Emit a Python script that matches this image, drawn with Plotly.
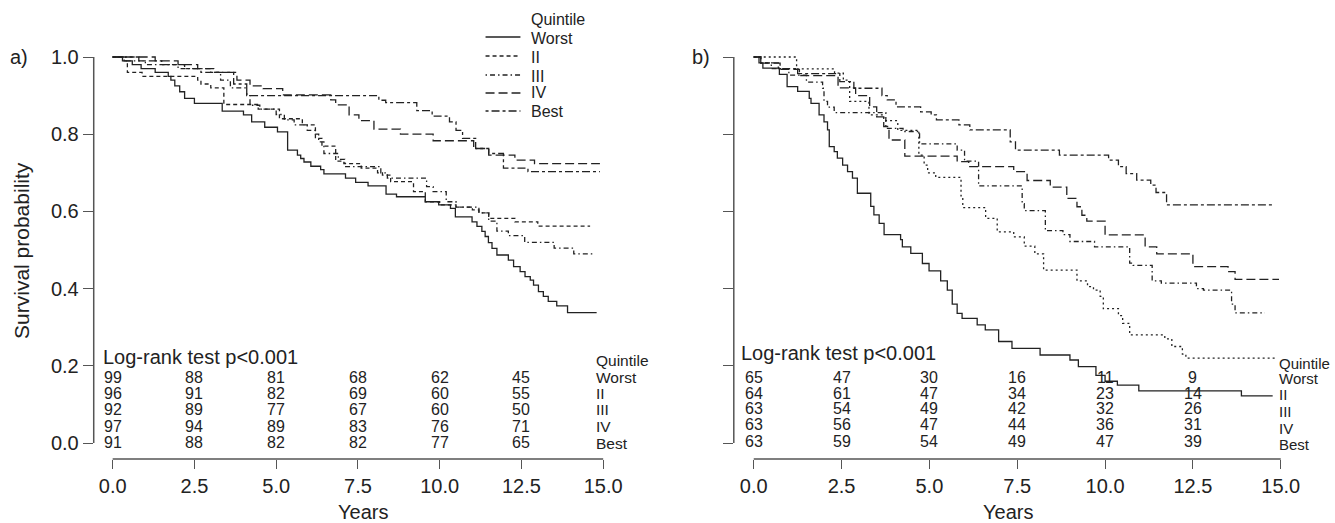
import plotly.graph_objects as go

# ---------------- data ----------------
groups = ["Worst", "II", "III", "IV", "Best"]
risk_times = [0, 2.5, 5, 7.5, 10, 12.5]
x_ticks = [0, 2.5, 5, 7.5, 10, 12.5, 15]
y_ticks = [0, 0.2, 0.4, 0.6, 0.8, 1.0]

# Panel a: step times and survival after each step
a_worst_t = [0, 0.3, 0.6, 0.87, 1.3, 1.7, 1.78, 1.9, 2.05, 2.2, 2.5, 3.35, 4.0, 4.25, 4.65, 5.04, 5.35, 5.65, 5.75, 5.85,
             6.06, 6.36, 6.46, 7.12, 7.43, 7.81, 8.36, 8.68, 9.56, 9.97, 10.33, 10.48, 10.99, 11.14, 11.29, 11.39, 11.49,
             11.6, 11.75, 12.1, 12.26, 12.46, 12.61, 12.77, 12.87, 13.02, 13.17, 13.32, 13.58, 13.91]
a_worst_s = [1.0, 0.99, 0.98, 0.97, 0.96, 0.95, 0.94, 0.925, 0.91, 0.893, 0.88, 0.86, 0.85, 0.832, 0.818, 0.806, 0.759,
             0.746, 0.737, 0.728, 0.717, 0.708, 0.697, 0.686, 0.675, 0.666, 0.645, 0.638, 0.625, 0.617, 0.608, 0.586,
             0.573, 0.561, 0.548, 0.535, 0.519, 0.504, 0.487, 0.474, 0.457, 0.444, 0.431, 0.422, 0.409, 0.392, 0.380,
             0.367, 0.355, 0.338]
a_worst_end = 14.8

a_ii_t = [0, 0.35, 0.45, 0.9, 2.6, 2.7, 3.0, 3.4, 4.45, 5.1, 5.8, 6.2, 6.4, 6.82, 7.07, 7.6, 8.1, 8.25, 8.5, 9.2,
          9.56, 10.0, 10.5, 11.0, 11.2, 11.5, 12.3, 13.0]
a_ii_s = [1.0, 0.99, 0.96, 0.95, 0.94, 0.93, 0.92, 0.877, 0.865, 0.84, 0.824, 0.789, 0.769, 0.73, 0.724, 0.712, 0.70,
          0.694, 0.677, 0.651, 0.625, 0.617, 0.611, 0.604, 0.596, 0.582, 0.573, 0.562]
a_ii_end = 14.6

a_iii_t = [0, 0.4, 1.0, 2.0, 3.0, 3.3, 3.6, 4.1, 4.2, 4.5, 5.0, 5.25, 5.55, 5.95, 6.2, 6.3, 6.46, 6.9, 7.1, 8.2,
           8.4, 9.6, 9.8, 10.2, 10.5, 11.2, 11.5, 11.75, 12.1, 12.6, 13.5, 14.1]
a_iii_s = [1.0, 0.99, 0.98, 0.97, 0.96, 0.94, 0.92, 0.90, 0.875, 0.865, 0.851, 0.837, 0.824, 0.81, 0.80, 0.78, 0.75,
           0.735, 0.716, 0.70, 0.686, 0.664, 0.651, 0.625, 0.611, 0.596, 0.575, 0.549, 0.537, 0.52, 0.505, 0.49]
a_iii_end = 14.75

a_iv_t = [0, 1.3, 2.0, 2.6, 3.1, 3.8, 4.2, 4.6, 5.2, 6.67, 6.82, 7.23, 7.53, 7.99, 8.8, 9.8, 11.04, 11.5, 12.3, 12.9]
a_iv_s = [1.0, 0.99, 0.98, 0.97, 0.96, 0.94, 0.925, 0.918, 0.902, 0.889, 0.876, 0.85, 0.835, 0.813, 0.80, 0.783,
          0.763, 0.746, 0.733, 0.724]
a_iv_end = 14.9

a_best_t = [0, 0.8, 1.5, 2.2, 2.7, 3.7, 4.1, 8.14, 8.35, 9.3, 9.77, 10.3, 10.5, 10.7, 11.1, 11.5, 11.95, 12.7]
a_best_s = [1.0, 0.99, 0.98, 0.97, 0.96, 0.93, 0.90, 0.888, 0.882, 0.861, 0.847, 0.832, 0.81, 0.789, 0.763, 0.75,
            0.712, 0.703]
a_best_end = 14.9

# Panel b
b_worst_t = [0, 0.15, 0.26, 0.73, 0.95, 1.25, 1.58, 1.63, 1.86, 2.0, 2.1, 2.15, 2.29, 2.38, 2.53, 2.67, 2.81, 2.95,
             3.33, 3.42, 3.57, 3.71, 4.18, 4.23, 4.47, 4.8, 4.99, 5.32, 5.51, 5.65, 5.79, 5.93, 6.36, 6.59, 6.97,
             7.35, 8.15, 9.0, 9.24, 9.74, 10.0, 10.35, 10.96, 13.88]
b_worst_s = [1.0, 0.985, 0.971, 0.955, 0.923, 0.911, 0.893, 0.88, 0.85, 0.832, 0.811, 0.768, 0.755, 0.738, 0.72,
             0.703, 0.686, 0.647, 0.613, 0.591, 0.569, 0.54, 0.527, 0.508, 0.491, 0.465, 0.446, 0.42, 0.396, 0.36,
             0.336, 0.323, 0.306, 0.293, 0.263, 0.245, 0.228, 0.215, 0.198, 0.175, 0.16, 0.15, 0.135, 0.122]
b_worst_end = 14.77

b_ii_t = [0, 1.22, 2.3, 2.55, 2.73, 3.28, 3.7, 4.1, 4.7, 4.85, 4.95, 5.18, 5.9, 5.95, 6.6, 6.93, 7.4, 7.7, 8.0, 8.25,
          9.2, 9.5, 9.67, 9.86, 9.95, 10.38, 10.5, 10.7, 11.7, 11.9, 12.2, 12.3]
b_ii_s = [1.0, 0.969, 0.958, 0.94, 0.885, 0.85, 0.835, 0.81, 0.746, 0.72, 0.70, 0.688, 0.64, 0.61, 0.582, 0.547,
          0.534, 0.51, 0.49, 0.448, 0.42, 0.405, 0.396, 0.38, 0.348, 0.33, 0.31, 0.28, 0.27, 0.25, 0.23, 0.22]
b_ii_end = 14.9

b_iii_t = [0, 0.2, 0.5, 1.0, 1.5, 1.96, 2.0, 2.1, 2.29, 3.76, 4.25, 4.72, 5.79, 6.0, 6.4, 7.64, 7.7, 8.3, 8.8, 9.0,
           9.7, 10.7, 10.8, 11.34, 11.6, 12.6, 12.8, 13.6, 13.7]
b_iii_s = [1.0, 0.985, 0.97, 0.953, 0.935, 0.919, 0.885, 0.87, 0.856, 0.815, 0.807, 0.775, 0.759, 0.73, 0.666, 0.62,
           0.602, 0.55, 0.54, 0.522, 0.508, 0.466, 0.46, 0.42, 0.414, 0.40, 0.396, 0.36, 0.337]
b_iii_end = 14.55

b_iv_t = [0, 0.2, 0.75, 1.3, 2.4, 2.9, 3.3, 3.5, 3.7, 3.85, 4.3, 5.79, 6.12, 7.4, 7.78, 8.44, 8.91, 9.2, 9.34, 9.48,
          10.0, 11.14, 11.47, 12.5, 13.5, 13.7]
b_iv_s = [1.0, 0.984, 0.968, 0.952, 0.92, 0.90, 0.871, 0.845, 0.82, 0.785, 0.743, 0.729, 0.716, 0.703, 0.68, 0.663,
          0.634, 0.612, 0.59, 0.575, 0.539, 0.508, 0.49, 0.457, 0.444, 0.424]
b_iv_end = 14.95

b_best_t = [0, 0.2, 0.7, 1.25, 2.45, 2.85, 3.65, 3.8, 4.05, 4.75, 5.05, 5.2, 5.84, 6.15, 7.3, 7.45, 8.7, 10.1, 10.38,
            10.6, 10.9, 11.3, 11.45, 11.75]
b_best_s = [1.0, 0.985, 0.97, 0.957, 0.936, 0.919, 0.90, 0.889, 0.871, 0.858, 0.85, 0.837, 0.824, 0.811, 0.78, 0.759,
            0.746, 0.733, 0.716, 0.698, 0.681, 0.668, 0.649, 0.617]
b_best_end = 14.75

# numbers at risk
a_risk_worst = [99, 88, 81, 68, 62, 45]
a_risk_ii = [96, 91, 82, 69, 60, 55]
a_risk_iii = [92, 89, 77, 67, 60, 50]
a_risk_iv = [97, 94, 89, 83, 76, 71]
a_risk_best = [91, 88, 82, 82, 77, 65]
b_risk_worst = [65, 47, 30, 16, 11, 9]
b_risk_ii = [64, 61, 47, 34, 23, 14]
b_risk_iii = [63, 54, 49, 42, 32, 26]
b_risk_iv = [63, 56, 47, 44, 36, 31]
b_risk_best = [63, 59, 54, 49, 47, 39]

# ---------------- layout / style ----------------
W, H = 1335, 523
FONT = "Liberation Sans, Arial, Helvetica, sans-serif"
TXT = "#222222"
AXC = "#555555"
CURVE = "#222222"

def px(x):
    return x / W

def py(y):
    return 1 - y / H

# pixel geometry of the two panels
A_T0, A_K = 113.0, 32.8        # pixel of t=0 and pixels per year (panel a)
B_T0, B_K = 756.0, 35.24       # panel b
V0, VK = 443.0, 386.0          # pixel of S=0 and pixels per unit
BOX_TOP, BOX_BOT = 40.0, 459.0
A_L, A_R = 94.0, 620.0
B_L, B_R = 736.0, 1300.0

dash_a = {"Worst": "solid", "II": "4px,3px", "III": "1.5px,3px,5px,3px", "IV": "9px,4px", "Best": "3px,3px,8px,3px"}
dash_b = {"Worst": "solid", "II": "2px,3px", "III": "1.5px,3px,5px,3px", "IV": "9px,4px", "Best": "3px,3px,8px,3px"}

fig = go.Figure()

def add_curve(t, s, end, dash, xa, ya):
    fig.add_trace(go.Scatter(x=t + [end], y=s + [s[-1]], mode="lines", line_shape="hv",
                             line=dict(color=CURVE, width=1.3, dash=dash),
                             xaxis=xa, yaxis=ya, showlegend=False, hoverinfo="skip"))

panel_a = [(a_worst_t, a_worst_s, a_worst_end), (a_ii_t, a_ii_s, a_ii_end), (a_iii_t, a_iii_s, a_iii_end),
           (a_iv_t, a_iv_s, a_iv_end), (a_best_t, a_best_s, a_best_end)]
panel_b = [(b_worst_t, b_worst_s, b_worst_end), (b_ii_t, b_ii_s, b_ii_end), (b_iii_t, b_iii_s, b_iii_end),
           (b_iv_t, b_iv_s, b_iv_end), (b_best_t, b_best_s, b_best_end)]
for g, (t, s, e) in zip(groups, panel_a):
    add_curve(t, s, e, dash_a[g], "x", "y")
for g, (t, s, e) in zip(groups, panel_b):
    add_curve(t, s, e, dash_b[g], "x2", "y2")

yrange = [(V0 - BOX_BOT) / VK, (V0 - BOX_TOP) / VK]
ydom = [py(BOX_BOT), py(BOX_TOP)]

def xaxis_cfg(left, right, t0, k):
    return dict(domain=[px(left), px(right)], range=[(left - t0) / k, (right - t0) / k],
                tickvals=x_ticks, tickformat=".1f", ticks="outside", ticklen=9, tickwidth=1.3,
                tickcolor=AXC, showline=False, showgrid=False, zeroline=False,
                tickfont=dict(family=FONT, size=20, color=TXT))

fig.update_layout(
    width=W, height=H, margin=dict(l=0, r=0, t=0, b=0),
    paper_bgcolor="white", plot_bgcolor="white",
    xaxis=dict(**xaxis_cfg(A_L, A_R, A_T0, A_K), anchor="y"),
    xaxis2=dict(**xaxis_cfg(B_L, B_R, B_T0, B_K), anchor="y2"),
    yaxis=dict(domain=ydom, range=yrange, anchor="x", tickvals=y_ticks, tickformat=".1f", ticks="outside",
               ticklen=10, tickwidth=1.3, tickcolor=AXC, showline=False, showgrid=False, zeroline=False,
               tickfont=dict(family=FONT, size=20, color=TXT)),
    yaxis2=dict(domain=ydom, range=yrange, anchor="x2", tickvals=y_ticks, ticks="outside", ticklen=10,
                tickwidth=1.3, tickcolor=AXC, showticklabels=False, showline=False, showgrid=False,
                zeroline=False),
    font=dict(family=FONT, color=TXT),
)

shapes = []
# axis lines (R style: span the tick range only)
for xr, yr, xl in (("x", "y", A_L), ("x2", "y2", B_L)):
    shapes.append(dict(type="line", xref=xr, yref="paper", x0=x_ticks[0], x1=x_ticks[-1],
                       y0=py(BOX_BOT), y1=py(BOX_BOT), line=dict(color=AXC, width=1.5)))
    shapes.append(dict(type="line", xref="paper", yref=yr, x0=px(xl), x1=px(xl),
                       y0=y_ticks[0], y1=y_ticks[-1], line=dict(color=AXC, width=1.5)))

# legend (panel a)
leg_line_y = [37, 56, 75, 93, 111]
leg_text_y = [38, 57, 76, 93, 112]
for g, ly in zip(groups, leg_line_y):
    shapes.append(dict(type="line", xref="paper", yref="paper", x0=px(487), x1=px(522), y0=py(ly), y1=py(ly),
                       line=dict(color=CURVE, width=1.3, dash=dash_a[g])))
fig.update_layout(shapes=shapes)

ann = []

def text(x, y, s, size, xanchor="left", xref="paper", angle=0):
    ann.append(dict(x=x, y=y, xref=xref, yref="paper", text=s, showarrow=False, xanchor=xanchor,
                    yanchor="middle", textangle=angle, font=dict(family=FONT, size=size, color=TXT)))

text(px(531), py(20), "Quintile", 16)
for g, ly in zip(groups, leg_text_y):
    text(px(531), py(ly), g, 16)

text(px(8), py(57), "a)", 20)
text(px(692), py(57), "b)", 20)
text(px(21), py(250), "Survival probability", 21, xanchor="center", angle=-90)
text(px(364), py(512), "Years", 20, xanchor="center")
text(px(1011), py(512), "Years", 20, xanchor="center")
text(px(101), py(357), "Log-rank test p<0.001", 20)
text(px(741), py(353), "Log-rank test p<0.001", 20)

# numbers at risk tables
a_rows_y = [377, 393, 409, 426, 442]
a_lab_y = [377, 393, 409, 426, 443]
b_rows_y = [377, 393, 408, 424, 441]
b_lab_y = [378, 394, 411, 428, 444]
a_risk = [a_risk_worst, a_risk_ii, a_risk_iii, a_risk_iv, a_risk_best]
b_risk = [b_risk_worst, b_risk_ii, b_risk_iii, b_risk_iv, b_risk_best]

for row, ry in zip(a_risk, a_rows_y):
    for t, n in zip(risk_times, row):
        text(t, py(ry), str(n), 16, xanchor="center", xref="x")
for row, ry in zip(b_risk, b_rows_y):
    for t, n in zip(risk_times, row):
        text(t, py(ry), str(n), 16, xanchor="center", xref="x2")

text(px(596), py(360), "Quintile", 15.5)
for g, ly in zip(groups, a_lab_y):
    text(px(596), py(ly), g, 15.5)
text(px(1281), py(363), "Quintile", 15)
for g, ly in zip(groups, b_lab_y):
    text(px(1281), py(ly), g, 15)

fig.update_layout(annotations=ann)
# the page body's default 8px margin would shift the figure; remove it so pixel positions match
fig.write_html("out.html", config={"displayModeBar": False},
               post_script="document.body.style.margin='0px';document.body.style.padding='0px';")
